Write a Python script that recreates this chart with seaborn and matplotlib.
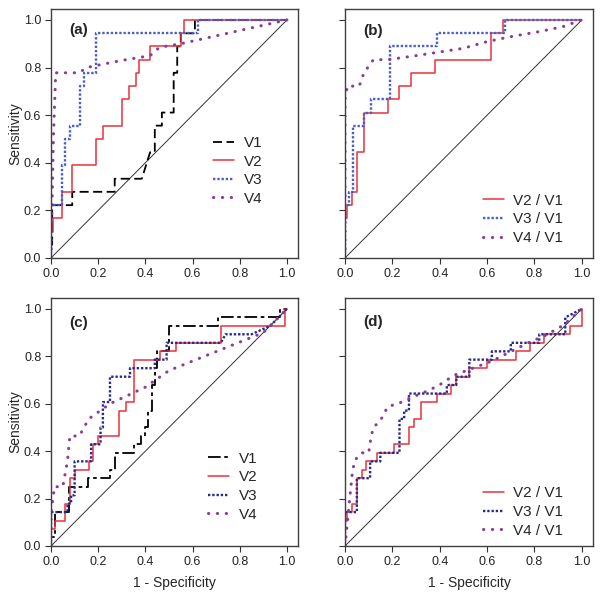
import numpy as np
import pandas as pd
import matplotlib
matplotlib.use('Agg')
import matplotlib.pyplot as plt
import seaborn as sns

sns.set_style('ticks')
plt.rcParams['font.family'] = ['Liberation Sans', 'DejaVu Sans']

# ---- panel (a) ----
a_v1_fpr = [0, 0, 0.005, 0.005, 0.09, 0.09, 0.27, 0.27, 0.385, 0.42, 0.44, 0.44, 0.47, 0.47, 0.52, 0.52, 0.535, 0.535, 0.55, 0.55, 0.61, 0.61, 1.0]
a_v1_tpr = [0, 0.056, 0.056, 0.222, 0.222, 0.278, 0.278, 0.333, 0.333, 0.444, 0.444, 0.556, 0.556, 0.611, 0.611, 0.778, 0.778, 0.889, 0.889, 0.944, 0.944, 1.0, 1.0]
a_v2_fpr = [0, 0, 0.01, 0.01, 0.045, 0.045, 0.09, 0.09, 0.19, 0.19, 0.22, 0.22, 0.30, 0.30, 0.33, 0.33, 0.36, 0.36, 0.375, 0.375, 0.42, 0.42, 0.55, 0.55, 0.565, 0.565, 1.0]
a_v2_tpr = [0, 0.111, 0.111, 0.167, 0.167, 0.278, 0.278, 0.389, 0.389, 0.5, 0.5, 0.556, 0.556, 0.667, 0.667, 0.722, 0.722, 0.778, 0.778, 0.833, 0.833, 0.889, 0.889, 0.944, 0.944, 1.0, 1.0]
a_v3_fpr = [0, 0, 0.045, 0.045, 0.06, 0.06, 0.08, 0.08, 0.125, 0.125, 0.14, 0.14, 0.19, 0.19, 0.625, 0.625, 1.0]
a_v3_tpr = [0, 0.222, 0.222, 0.389, 0.389, 0.5, 0.5, 0.556, 0.556, 0.722, 0.722, 0.778, 0.778, 0.944, 0.944, 1.0, 1.0]
a_v4_fpr = [0, 0.01, 0.02, 0.12, 0.15, 0.3, 0.42, 0.46, 0.55, 1.0]
a_v4_tpr = [0, 0.5, 0.778, 0.778, 0.8, 0.83, 0.85, 0.885, 0.9, 1.0]

# ---- panel (b) ----
b_v2_fpr = [0, 0, 0.01, 0.01, 0.03, 0.03, 0.05, 0.05, 0.08, 0.08, 0.18, 0.18, 0.23, 0.23, 0.28, 0.28, 0.38, 0.38, 0.615, 0.615, 0.665, 0.665, 1.0]
b_v2_tpr = [0, 0.167, 0.167, 0.222, 0.222, 0.278, 0.278, 0.444, 0.444, 0.611, 0.611, 0.667, 0.667, 0.722, 0.722, 0.778, 0.778, 0.833, 0.833, 0.944, 0.944, 1.0, 1.0]
b_v3_fpr = [0, 0, 0.015, 0.015, 0.035, 0.035, 0.08, 0.08, 0.11, 0.11, 0.19, 0.19, 0.39, 0.39, 0.675, 0.675, 1.0]
b_v3_tpr = [0, 0.222, 0.222, 0.278, 0.278, 0.556, 0.556, 0.611, 0.611, 0.667, 0.667, 0.889, 0.889, 0.944, 0.944, 1.0, 1.0]
b_v4_fpr = [0, 0, 0.01, 0.06, 0.08, 0.12, 0.18, 0.3, 0.5, 0.6, 0.7, 0.82, 0.92, 1.0]
b_v4_tpr = [0, 0.667, 0.722, 0.722, 0.778, 0.833, 0.833, 0.85, 0.881, 0.909, 0.93, 0.951, 0.972, 1.0]

# ---- panel (c) ----
c_v1_fpr = [0, 0, 0.017, 0.017, 0.078, 0.078, 0.158, 0.158, 0.25, 0.25, 0.27, 0.27, 0.35, 0.35, 0.38, 0.38, 0.40, 0.40, 0.41, 0.41, 0.43, 0.43, 0.44, 0.44, 0.45, 0.45, 0.50, 0.50, 0.71, 0.71, 0.97, 0.97, 1.0]
c_v1_tpr = [0, 0.036, 0.036, 0.143, 0.143, 0.25, 0.25, 0.286, 0.286, 0.321, 0.321, 0.393, 0.393, 0.429, 0.429, 0.464, 0.464, 0.5, 0.5, 0.571, 0.571, 0.679, 0.679, 0.75, 0.75, 0.821, 0.821, 0.929, 0.929, 0.964, 0.964, 1.0, 1.0]
c_v2_fpr = [0, 0, 0.015, 0.015, 0.06, 0.06, 0.08, 0.08, 0.1, 0.1, 0.16, 0.16, 0.18, 0.18, 0.2, 0.2, 0.29, 0.29, 0.32, 0.32, 0.35, 0.35, 0.46, 0.46, 0.53, 0.53, 0.72, 0.72, 0.99, 0.99, 1.0]
c_v2_tpr = [0, 0.071, 0.071, 0.107, 0.107, 0.179, 0.179, 0.286, 0.286, 0.321, 0.321, 0.357, 0.357, 0.429, 0.429, 0.464, 0.464, 0.571, 0.571, 0.607, 0.607, 0.786, 0.786, 0.821, 0.821, 0.857, 0.857, 0.929, 0.929, 1.0, 1.0]
c_v3_fpr = [0, 0, 0.07, 0.07, 0.085, 0.085, 0.1, 0.1, 0.17, 0.17, 0.21, 0.21, 0.22, 0.22, 0.25, 0.25, 0.335, 0.335, 0.44, 0.44, 0.49, 0.49, 0.72, 0.74, 0.85, 0.93, 1.0]
c_v3_tpr = [0, 0.143, 0.143, 0.179, 0.179, 0.214, 0.214, 0.357, 0.357, 0.429, 0.429, 0.5, 0.5, 0.607, 0.607, 0.714, 0.714, 0.75, 0.75, 0.786, 0.786, 0.857, 0.857, 0.893, 0.893, 0.929, 1.0]
c_v4_fpr = [0, 0, 0.015, 0.05, 0.07, 0.08, 0.12, 0.16, 0.25, 0.4, 0.5, 0.6, 0.7, 0.8, 0.9, 1.0]
c_v4_tpr = [0, 0.143, 0.25, 0.25, 0.36, 0.464, 0.464, 0.536, 0.6, 0.67, 0.74, 0.78, 0.82, 0.86, 0.9, 1.0]

# ---- panel (d) ----
d_v2_fpr = [0, 0, 0.01, 0.01, 0.028, 0.028, 0.05, 0.05, 0.071, 0.071, 0.09, 0.09, 0.135, 0.135, 0.206, 0.206, 0.27, 0.27, 0.29, 0.29, 0.32, 0.32, 0.39, 0.39, 0.447, 0.447, 0.468, 0.468, 0.525, 0.525, 0.6, 0.6, 0.72, 0.72, 0.78, 0.78, 0.84, 0.84, 0.95, 0.95, 1.0, 1.0]
d_v2_tpr = [0, 0.107, 0.107, 0.143, 0.143, 0.179, 0.179, 0.286, 0.286, 0.321, 0.321, 0.357, 0.357, 0.393, 0.393, 0.429, 0.429, 0.5, 0.5, 0.536, 0.536, 0.607, 0.607, 0.643, 0.643, 0.679, 0.679, 0.714, 0.714, 0.75, 0.75, 0.786, 0.786, 0.821, 0.821, 0.857, 0.857, 0.893, 0.893, 0.929, 0.929, 1.0]
d_v3_fpr = [0, 0, 0.05, 0.05, 0.106, 0.106, 0.149, 0.149, 0.23, 0.23, 0.25, 0.25, 0.27, 0.27, 0.43, 0.43, 0.47, 0.47, 0.525, 0.525, 0.62, 0.62, 0.7, 0.7, 0.82, 0.82, 0.93, 0.93, 1.0]
d_v3_tpr = [0, 0.143, 0.143, 0.286, 0.286, 0.357, 0.357, 0.393, 0.393, 0.536, 0.536, 0.571, 0.571, 0.643, 0.643, 0.679, 0.679, 0.714, 0.714, 0.786, 0.786, 0.821, 0.821, 0.857, 0.857, 0.893, 0.893, 0.964, 1.0]
d_v4_fpr = [0, 0.01, 0.02, 0.03, 0.04, 0.07, 0.1, 0.11, 0.12, 0.15, 0.18, 0.24, 0.29, 0.355, 0.4, 0.46, 0.5, 0.62, 0.7, 0.78, 0.85, 0.92, 1.0]
d_v4_tpr = [0, 0.1, 0.2, 0.3, 0.36, 0.393, 0.393, 0.46, 0.5, 0.53, 0.587, 0.607, 0.63, 0.657, 0.68, 0.72, 0.735, 0.78, 0.82, 0.86, 0.89, 0.93, 1.0]

diag = [0, 1]
ticks = [0.0, 0.2, 0.4, 0.6, 0.8, 1.0]

RED = '#e8323c'
BLUE = '#4a5ec8'
NAVY = '#262a88'
PURPLE = '#8a3c98'

dash = (0, (5, 2.5))
dashdot = (0, (7, 2, 2, 2))
fine_dot = (0, (1, 0.8))
wide_dot = (0, (0.1, 2.8))

panels = {
    'a': [(a_v1_fpr, a_v1_tpr, 'V1', 'black', dash, 1.3),
          (a_v2_fpr, a_v2_tpr, 'V2', RED, '-', 1.1),
          (a_v3_fpr, a_v3_tpr, 'V3', BLUE, fine_dot, 1.7),
          (a_v4_fpr, a_v4_tpr, 'V4', PURPLE, wide_dot, 2.2)],
    'b': [(b_v2_fpr, b_v2_tpr, 'V2 / V1', RED, '-', 1.1),
          (b_v3_fpr, b_v3_tpr, 'V3 / V1', BLUE, fine_dot, 1.7),
          (b_v4_fpr, b_v4_tpr, 'V4 / V1', PURPLE, wide_dot, 2.2)],
    'c': [(c_v1_fpr, c_v1_tpr, 'V1', 'black', dashdot, 1.3),
          (c_v2_fpr, c_v2_tpr, 'V2', RED, '-', 1.1),
          (c_v3_fpr, c_v3_tpr, 'V3', NAVY, fine_dot, 1.7),
          (c_v4_fpr, c_v4_tpr, 'V4', PURPLE, wide_dot, 2.2)],
    'd': [(d_v2_fpr, d_v2_tpr, 'V2 / V1', RED, '-', 1.1),
          (d_v3_fpr, d_v3_tpr, 'V3 / V1', NAVY, fine_dot, 1.7),
          (d_v4_fpr, d_v4_tpr, 'V4 / V1', PURPLE, wide_dot, 2.2)],
}

# axes boxes in figure pixels: left, bottom edge (from top), width, height
boxes = {'a': (51, 258, 247, 249), 'b': (345, 258, 248, 249),
         'c': (51, 546, 247, 248), 'd': (345, 546, 248, 248)}
legend_pos = {'a': (0.656, 0.49), 'b': (0.556, 0.258), 'c': (0.636, 0.38), 'd': (0.556, 0.24)}
letter_y = {'a': 0.916, 'b': 0.912, 'c': 0.9, 'd': 0.904}

W, H = 601, 598
fig = plt.figure(figsize=(W / 100, H / 100), dpi=100)

for key, series in panels.items():
    l, b, w, h = boxes[key]
    ax = fig.add_axes([l / W, (H - b) / H, w / W, h / H])
    sns.lineplot(x=diag, y=diag, color='#333333', linewidth=0.7, ax=ax)
    for fpr, tpr, lab, col, ls, lw in series:
        cap = 'round' if ls == wide_dot else 'butt'
        sns.lineplot(x=fpr, y=tpr, sort=False, estimator=None, color=col,
                     linestyle=ls, linewidth=lw, label=lab, ax=ax,
                     dash_capstyle=cap)
    ax.set_xlim(0, 1.047)
    ax.set_ylim(0, 1.046)
    ax.set_xticks(ticks)
    ax.set_yticks(ticks)
    ax.set_xticklabels([f'{t:.1f}' for t in ticks])
    if key in ('a', 'c'):
        ax.set_yticklabels([f'{t:.1f}' for t in ticks])
        ax.set_ylabel('Sensitivity', fontsize=10, labelpad=1)
    else:
        ax.set_yticklabels([])
    if key in ('c', 'd'):
        ax.set_xlabel('1 - Specificity', fontsize=10, labelpad=6)
    ax.tick_params(direction='out', length=4, width=0.8, colors='#333333',
                   labelsize=9, labelcolor='#222222', pad=3)
    for sp in ax.spines.values():
        sp.set_color('#404040')
        sp.set_linewidth(1.0)
    ax.text(0.073, letter_y[key], f'({key})', transform=ax.transAxes,
            fontsize=11, fontweight='bold', ha='left', va='center')
    ax.legend(loc='upper left', bbox_to_anchor=legend_pos[key], frameon=False,
              fontsize=11, handlelength=1.4, handletextpad=0.6,
              labelspacing=0.3, borderpad=0, borderaxespad=0)

fig.savefig('out.png', dpi=100)
